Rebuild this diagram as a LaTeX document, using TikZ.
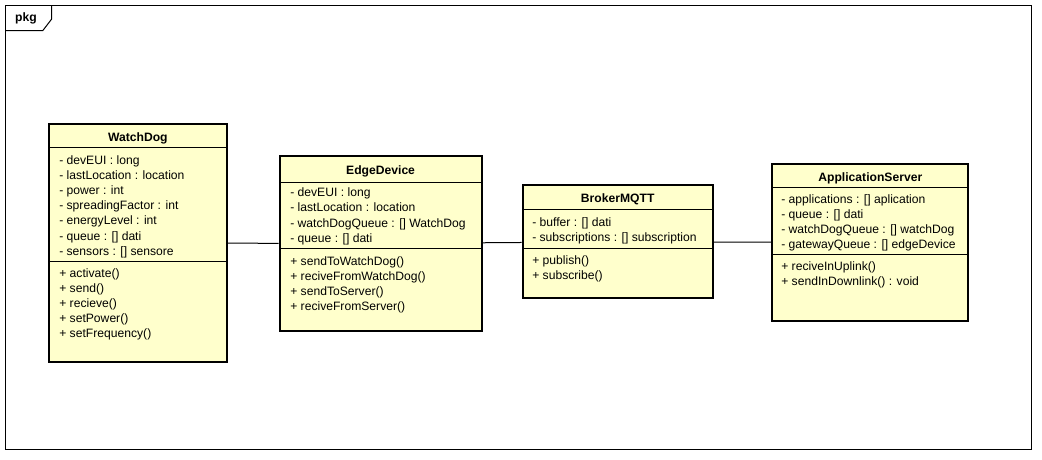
\documentclass[tikz,border=0pt]{standalone}
\usepackage{fontspec}
\setmainfont{Liberation Sans}
\usetikzlibrary{fit}
\definecolor{clsfill}{RGB}{255,255,204}
\begin{document}
\begin{tikzpicture}[x=0.75pt,y=-0.75pt,
  cls/.style={draw=black,line width=1.5pt,fill=clsfill,inner sep=0pt},
  sepline/.style={draw=black,line width=0.75pt},
  conn/.style={draw=black,line width=0.75pt},
  frameline/.style={draw=black,line width=0.75pt},
  txt/.style={anchor=base west,inner sep=0pt,font=\fontsize{9.1}{11}\selectfont},
  ttl/.style={anchor=base,inner sep=0pt,font=\fontsize{9.1}{11}\selectfont\bfseries}]
\useasboundingbox (0,0) rectangle (1042,460);
\fill[white] (0,0) rectangle (1042,460);
% frame
\draw[frameline] (5.5,6) rectangle (1031,449);
\draw[frameline] (5.5,30.7) -- (42.7,30.7) -- (51.7,19) -- (51.7,6);
\node[ttl] (pkg) at (26,22) {pkg};
% WatchDog
\coordinate (wdA) at (49,124); \coordinate (wdB) at (226.7,362);
\node[cls,fit=(wdA)(wdB)] (wd) {};
\draw[sepline] (49,147.3) -- (226.7,147.3);
\draw[sepline] (49,261) -- (226.7,261);
\node[ttl] (wdt) at (137.85,141.7) {WatchDog};
\foreach[count=\i] \txt in {- devEUI : long,- lastLocation : location,- power : int,- spreadingFactor : int,- energyLevel : int,- queue : [] dati,- sensors : [] sensore}
  \node[txt] (wda\i) at ({59},{164+(\i-1)*15.2}) {\txt};
\foreach[count=\i] \txt in {+ activate(),+ send(),+ recieve(),+ setPower(),+ setFrequency()}
  \node[txt] (wdm\i) at ({59},{277+(\i-1)*15.2}) {\txt};
% EdgeDevice
\coordinate (edA) at (279.5,156); \coordinate (edB) at (481.7,331);
\node[cls,fit=(edA)(edB)] (ed) {};
\draw[sepline] (279.5,182) -- (481.7,182);
\draw[sepline] (279.5,248.3) -- (481.7,248.3);
\node[ttl] (edt) at (380.6,174) {EdgeDevice};
\foreach[count=\i] \txt in {- devEUI : long,- lastLocation : location,- watchDogQueue : [] WatchDog,- queue : [] dati}
  \node[txt] (eda\i) at ({290},{196.7+(\i-1)*15.2}) {\txt};
\foreach[count=\i] \txt in {+ sendToWatchDog(),+ reciveFromWatchDog(),+ sendToServer(),+ reciveFromServer()}
  \node[txt] (edm\i) at ({290},{265+(\i-1)*15.2}) {\txt};
% BrokerMQTT
\coordinate (brA) at (522.7,185.3); \coordinate (brB) at (712.7,298.3);
\node[cls,fit=(brA)(brB)] (br) {};
\draw[sepline] (522.7,209.3) -- (712.7,209.3);
\draw[sepline] (522.7,248.3) -- (712.7,248.3);
\node[ttl] (brt) at (617.7,202) {BrokerMQTT};
\foreach[count=\i] \txt in {- buffer : [] dati,- subscriptions : [] subscription}
  \node[txt] (bra\i) at ({532},{226.7+(\i-1)*15.2}) {\txt};
\foreach[count=\i] \txt in {+ publish(),+ subscribe()}
  \node[txt] (brm\i) at ({532},{264+(\i-1)*15.2}) {\txt};
% ApplicationServer
\coordinate (asA) at (772.3,164); \coordinate (asB) at (968.3,321);
\node[cls,fit=(asA)(asB)] (as) {};
\draw[sepline] (772.3,187.7) -- (968.3,187.7);
\draw[sepline] (772.3,254.3) -- (968.3,254.3);
\node[ttl] (ast) at (870.3,181.7) {ApplicationServer};
\foreach[count=\i] \txt in {- applications : [] aplication,- queue : [] dati,- watchDogQueue : [] watchDog,- gatewayQueue : [] edgeDevice}
  \node[txt] (asa\i) at ({781},{203+(\i-1)*15.3}) {\txt};
\foreach[count=\i] \txt in {+ reciveInUplink(),+ sendInDownlink() : void}
  \node[txt] (asm\i) at ({781},{270+(\i-1)*15.5}) {\txt};
% connectors
\draw[conn] (wd) -- (ed);
\draw[conn] (ed) -- (br);
\draw[conn] (br) -- (as);
\end{tikzpicture}
\end{document}
